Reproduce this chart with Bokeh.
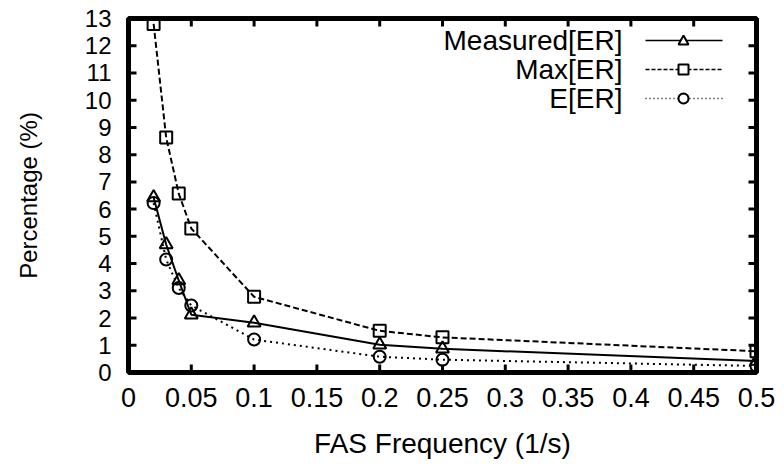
import math
from bokeh.plotting import figure
from bokeh.models import FixedTicker, Label, Arrow, PolyAnnotation, Range1d
from bokeh.embed import file_html
from bokeh.resources import INLINE

# ---- data ----
freq = [0.02, 0.03, 0.04, 0.05, 0.1, 0.2, 0.25, 0.5]
measured = [6.43, 4.70, 3.38, 2.12, 1.83, 1.02, 0.87, 0.42]
max_er = [12.8, 8.63, 6.57, 5.29, 2.78, 1.53, 1.29, 0.78]
e_er = [6.22, 4.15, 3.10, 2.46, 1.21, 0.58, 0.47, 0.24]

x_ticks = [0, 0.05, 0.1, 0.15, 0.2, 0.25, 0.3, 0.35, 0.4, 0.45, 0.5]
x_tick_labels = ["0", "0.05", "0.1", "0.15", "0.2", "0.25", "0.3", "0.35", "0.4", "0.45", "0.5"]
y_ticks = list(range(0, 14))
series_names = ["Measured[ER]", "Max[ER]", "E[ER]"]

FONT = "Liberation Sans"
W, H = 784, 467
X0, X1, Y0, Y1 = 0, 0.5, 0, 13

p = figure(width=W, height=H, output_backend="svg", toolbar_location=None,
           x_range=Range1d(X0, X1), y_range=Range1d(Y0, Y1),
           min_border_left=128, min_border_right=28, min_border_top=18,
           min_border_bottom=95,
           x_axis_label="FAS Frequency (1/s)", y_axis_label="Percentage (%)")
p.xgrid.grid_line_color = None
p.ygrid.grid_line_color = None
p.outline_line_color = "black"
p.outline_line_width = 5


def style_axis(ax, ticks):
    ax.ticker = FixedTicker(ticks=ticks)
    ax.axis_line_color = None
    ax.major_tick_line_color = None
    ax.minor_tick_line_color = None
    ax.major_tick_in = 0
    ax.major_tick_out = 0
    ax.major_label_text_font = FONT
    ax.major_label_text_color = "black"
    ax.axis_label_text_font = FONT
    ax.axis_label_text_font_style = "normal"
    ax.axis_label_text_color = "black"


xa = p.xaxis[0]
style_axis(xa, x_ticks)
xa.major_label_overrides = {t: l for t, l in zip(x_ticks, x_tick_labels)}
xa.major_label_text_font_size = "27px"
xa.major_label_standoff = 15
xa.axis_label_text_font_size = "28px"
xa.axis_label_standoff = 18

ya = p.yaxis[0]
style_axis(ya, y_ticks)
ya.major_label_text_font_size = "24px"
ya.major_label_standoff = 17
ya.axis_label_text_font_size = "24px"
ya.axis_label_standoff = 40

# ---- inward tick marks on all four sides (gnuplot mirror ticks) ----
tick_kw = dict(marker="dash", size=16, line_color="black", line_width=3)
p.scatter(x_ticks, [Y0] * len(x_ticks), angle=math.pi / 2, **tick_kw)
p.scatter(x_ticks, [Y1] * len(x_ticks), angle=math.pi / 2, **tick_kw)
p.scatter([X0] * len(y_ticks), y_ticks, **tick_kw)
p.scatter([X1] * len(y_ticks), y_ticks, **tick_kw)

# ---- series ----
p.line(freq, measured, line_color="black", line_width=2)
p.scatter(freq, measured, marker="triangle", size=13, fill_color=None,
          line_color="black", line_width=2)
p.line(freq, max_er, line_color="black", line_width=2, line_dash="6 3")
p.scatter(freq, max_er, marker="square", size=12, fill_color=None,
          line_color="black", line_width=2)
p.line(freq, e_er, line_color="black", line_width=2, line_dash="2 4")
p.scatter(freq, e_er, marker="circle", size=12, fill_color=None,
          line_color="black", line_width=2)

# ---- gnuplot-style key (text right-aligned, sample on the right) ----
row_y = [332, 303, 274]       # screen units within frame, from bottom
text_x = 494
line_x0, line_x1, mark_x = 517, 594, 555
dashes = ["solid", "4 2", "1 3"]
for name, yy, dash in zip(series_names, row_y, dashes):
    p.add_layout(Label(x=text_x, y=yy, x_units="screen", y_units="screen",
                       text=name, text_align="right", text_baseline="middle",
                       text_font=FONT, text_font_size="28px", text_color="black"))
    p.add_layout(Arrow(end=None, x_start=line_x0, y_start=yy, x_end=line_x1, y_end=yy,
                       start_units="screen", end_units="screen",
                       line_color="black", line_width=1.5, line_dash=dash))

r = 5
tri = PolyAnnotation(xs=[mark_x - r, mark_x + r, mark_x], ys=[row_y[0] - 4, row_y[0] - 4, row_y[0] + 5],
                     xs_units="screen", ys_units="screen", fill_color="white", fill_alpha=1,
                     line_color="black", line_alpha=1, line_width=2)
sq = PolyAnnotation(xs=[mark_x - r, mark_x + r, mark_x + r, mark_x - r],
                    ys=[row_y[1] - r, row_y[1] - r, row_y[1] + r, row_y[1] + r],
                    xs_units="screen", ys_units="screen", fill_color="white", fill_alpha=1,
                    line_color="black", line_alpha=1, line_width=2)
n = 24
cx = [mark_x + r * math.cos(2 * math.pi * k / n) for k in range(n)]
cy = [row_y[2] + r * math.sin(2 * math.pi * k / n) for k in range(n)]
circ = PolyAnnotation(xs=cx, ys=cy, xs_units="screen", ys_units="screen",
                      fill_color="white", fill_alpha=1, line_color="black", line_alpha=1,
                      line_width=2)
for a in (tri, sq, circ):
    p.add_layout(a)

open("out.html", "w").write(file_html(p, INLINE))
